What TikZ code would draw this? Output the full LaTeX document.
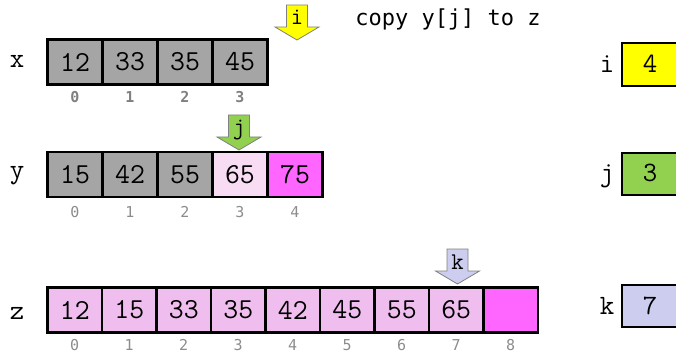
\documentclass[tikz,border=0pt]{standalone}
\usepackage{fontspec}
\newfontfamily\dmono{DejaVu Sans Mono}
\definecolor{cgray}{HTML}{A5A5A5}
\definecolor{cpink}{HTML}{F0BEEE}
\definecolor{cpale}{HTML}{F8DCF4}
\definecolor{cmag}{HTML}{FF66FF}
\definecolor{cyel}{HTML}{FFFF00}
\definecolor{cgreen}{HTML}{92D050}
\definecolor{clav}{HTML}{CDCDEF}
\definecolor{idxgray}{HTML}{8C8C8C}
\definecolor{idxdark}{HTML}{7F7F7F}
\newcommand\ptrarrow[5]{% name, cx, top, fill, label
  \draw[ptrline, fill=#4] (#2-10.5,#3) -- (#2+10.5,#3) -- (#2+10.5,#3+22) -- (#2+22,#3+22)
    -- (#2,#3+35) -- (#2-22,#3+22) -- (#2-10.5,#3+22) -- cycle;
  \node[ptrlbl] (#1) at (#2,#3+20) {#5};}
\begin{document}
\begin{tikzpicture}[x=1pt,y=-1pt,
  cell/.style={draw=black, line width=2.6pt, minimum width=55pt, minimum height=45pt,
    inner sep=0pt, font=\fontsize{29}{29}\selectfont\ttfamily},
  idx/.style={font=\fontsize{15}{15}\selectfont\dmono, text=idxgray, inner sep=0pt},
  idxb/.style={font=\fontsize{15}{15}\selectfont\dmono\bfseries, text=idxdark, inner sep=0pt},
  varlbl/.style={font=\fontsize{28}{28}\selectfont\ttfamily, inner sep=0pt, anchor=base},
  ptrline/.style={draw=gray, line width=0.8pt, line join=miter},
  ptrlbl/.style={font=\fontsize{24}{24}\selectfont\ttfamily, inner sep=0pt, anchor=base},
  boxline/.style={draw=black, line width=2.6pt},
  note/.style={font=\fontsize{22}{22}\selectfont\dmono, inner sep=0pt, anchor=base}]
\useasboundingbox (0,0) rectangle (676,355);

% x row
\node[varlbl] (xl) at (17,68) {x};
\foreach \v [count=\i from 0] in {12,33,35,45}{
  \node[cell, fill=cgray] (x\i) at ({47.5+55*(\i+0.5)},62) {\v};
  \node[idxb] (xi\i) at ({47.5+55*(\i+0.5)},97) {\i};
}
% y row
\node[varlbl] (yl) at (17,179) {y};
\foreach \v/\c [count=\i from 0] in {15/cgray,42/cgray,55/cgray,65/cpale,75/cmag}{
  \node[cell, fill=\c] (y\i) at ({47.5+55*(\i+0.5)},174.5) {\v};
  \node[idx] (yi\i) at ({47.5+55*(\i+0.5)},212) {\i};
}
% z row
\node[varlbl] (zl) at (17,319) {z};
\foreach \v/\c [count=\i from 0] in {12/cpink,15/cpink,33/cpink,35/cpink,42/cpink,45/cpink,55/cpink,65/cpink,{}/cmag}{
  \node[cell, fill=\c, minimum width=54.5pt] (z\i) at ({47.5+54.5*(\i+0.5)},310) {\v};
  \node[idx] (zi\i) at ({47.5+54.5*(\i+0.5)},345) {\i};
}

% pointer arrows
\ptrarrow{parr}{297}{5}{cyel}{i}
\ptrarrow{parrj}{239}{115}{cgreen}{j}
\ptrarrow{parrk}{457.5}{249}{clav}{k}

% note
\node[note] (note) at (448,26) {copy y[j] to z};

% right-side variable boxes
\fill[cyel] (622,43) rectangle (676,86);
\draw[boxline] (677,43) -- (622,43) -- (622,86) -- (677,86);
\node[varlbl] (iv) at (650,73) {4};
\node[varlbl] (il) at (607,73) {i};

\fill[cgreen] (622,153) rectangle (676,195);
\draw[boxline] (677,153) -- (622,153) -- (622,195) -- (677,195);
\node[varlbl] (jv) at (650,182) {3};
\node[varlbl] (jl) at (607,182) {j};

\fill[clav] (622,285) rectangle (676,327);
\draw[boxline] (677,285) -- (622,285) -- (622,327) -- (677,327);
\node[varlbl] (kv) at (650,314) {7};
\node[varlbl] (kl) at (607,314) {k};
\end{tikzpicture}
\end{document}
